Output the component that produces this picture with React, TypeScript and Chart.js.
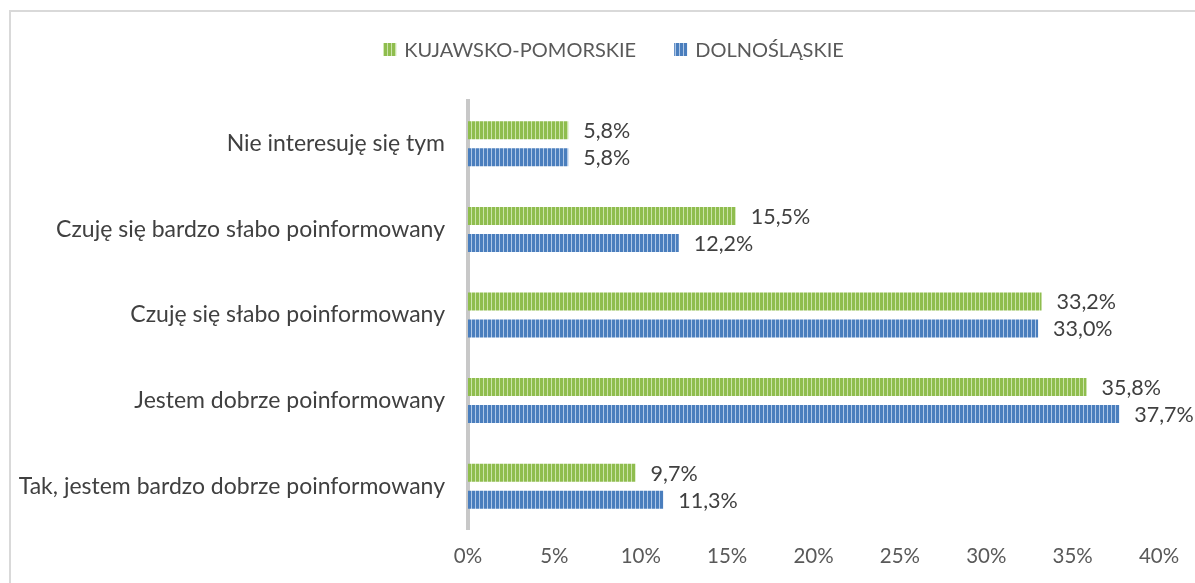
import React, { useEffect, useRef } from 'react';
import { Chart, registerables } from 'chart.js';

Chart.register(...registerables);

const categories: string[] = [
  'Nie interesuję się tym',
  'Czuję się bardzo słabo poinformowany',
  'Czuję się słabo poinformowany',
  'Jestem dobrze poinformowany',
  'Tak, jestem bardzo dobrze poinformowany',
];
const seriesNames: string[] = ['KUJAWSKO-POMORSKIE', 'DOLNOŚLĄSKIE'];
const kujawskoPomorskie: number[] = [5.8, 15.5, 33.2, 35.8, 9.7];
const dolnoslaskie: number[] = [5.8, 12.2, 33.0, 37.7, 11.3];
const xTicks: number[] = [0, 5, 10, 15, 20, 25, 30, 35, 40];

const FONT = 'Lato';

function makePattern(dark: string, light: string): CanvasPattern | string {
  const c = document.createElement('canvas');
  c.width = 4;
  c.height = 4;
  const x = c.getContext('2d');
  if (!x) return dark;
  x.fillStyle = dark;
  x.fillRect(0, 0, 4, 4);
  x.fillStyle = light;
  x.fillRect(3, 0, 1, 4);
  const p = x.createPattern(c, 'repeat');
  return p || dark;
}

const fmt = (v: number) => v.toFixed(1).replace('.', ',') + '%';

const dataLabelsPlugin = {
  id: 'dataLabels',
  afterDatasetsDraw(chart: any) {
    const ctx = chart.ctx;
    ctx.save();
    ctx.font = `21.5px ${FONT}`;
    ctx.fillStyle = '#404040';
    ctx.textAlign = 'left';
    ctx.textBaseline = 'middle';
    chart.data.datasets.forEach((ds: any, di: number) => {
      const meta = chart.getDatasetMeta(di);
      meta.data.forEach((bar: any, i: number) => {
        ctx.fillText(fmt(ds.data[i]), bar.x + 15, bar.y + 1);
      });
    });
    ctx.restore();
  },
};

const legendPlugin = {
  id: 'customLegend',
  afterDraw(chart: any) {
    const ctx = chart.ctx;
    ctx.save();
    ctx.font = `20px ${FONT}`;
    ctx.textBaseline = 'middle';
    ctx.textAlign = 'left';
    const box = 13;
    const gapText = 8;
    const gapItem = 38;
    const widths = chart.data.datasets.map((d: any) => ctx.measureText(d.label).width);
    const total = widths.reduce((a: number, w: number) => a + box + gapText + w, 0) + gapItem * (widths.length - 1);
    let x = 613.5 - total / 2;
    const cy = 49.5;
    chart.data.datasets.forEach((d: any, i: number) => {
      ctx.fillStyle = d.backgroundColor;
      ctx.fillRect(x, cy - box / 2, box, box);
      x += box + gapText;
      ctx.fillStyle = '#595959';
      ctx.fillText(d.label, x, cy + 1);
      x += widths[i] + gapItem;
    });
    ctx.restore();
  },
};

export default function App() {
  const ref = useRef<HTMLCanvasElement | null>(null);

  useEffect(() => {
    if (!ref.current) return;
    const green = makePattern('#8fbd4e', '#cbe4aa');
    const blue = makePattern('#4a7ebd', '#aec7e7');
    const chart = new Chart(ref.current, {
      type: 'bar',
      data: {
        labels: categories,
        datasets: [
          {
            label: seriesNames[0],
            data: kujawskoPomorskie,
            backgroundColor: green as any,
            borderWidth: 0,
            categoryPercentage: 0.631,
            barPercentage: 0.667,
          },
          {
            label: seriesNames[1],
            data: dolnoslaskie,
            backgroundColor: blue as any,
            borderWidth: 0,
            categoryPercentage: 0.631,
            barPercentage: 0.667,
          },
        ],
      },
      options: {
        indexAxis: 'y',
        animation: false,
        responsive: false,
        maintainAspectRatio: false,
        layout: { padding: { top: 101, right: 36, bottom: 0, left: 0 } },
        plugins: {
          legend: { display: false },
          tooltip: { enabled: false },
        },
        scales: {
          x: {
            min: 0,
            max: 40,
            afterBuildTicks: (s: any) => {
              s.ticks = xTicks.map((v) => ({ value: v }));
            },
            afterFit: (s: any) => {
              s.height = 54;
            },
            grid: { display: false, drawTicks: false },
            border: { display: false },
            ticks: {
              padding: 15,
              color: '#595959',
              font: { family: FONT, size: 20.5 },
              callback: (v: any) => v + '%',
            },
          },
          y: {
            z: 1,
            afterFit: (s: any) => {
              s.width = 468;
            },
            grid: { display: false, drawTicks: false },
            border: { display: true, color: '#c8c8c8', width: 4 },
            ticks: {
              padding: 23,
              color: '#404040',
              font: { family: FONT, size: 23 },
            },
          },
        },
      },
      plugins: [dataLabelsPlugin, legendPlugin],
    });
    return () => chart.destroy();
  }, []);

  return (
    <div style={{ position: 'fixed', left: 0, top: 0, width: 1195, height: 583, overflow: 'hidden', background: '#fff' }}>
      <div
        style={{
          position: 'absolute',
          left: 9,
          top: 10,
          width: 1400,
          height: 800,
          border: '2px solid #d9d9d9',
          boxSizing: 'border-box',
        }}
      />
      <canvas ref={ref} width={1195} height={583} style={{ position: 'absolute', left: 0, top: 0, width: 1195, height: 583 }} />
    </div>
  );
}
